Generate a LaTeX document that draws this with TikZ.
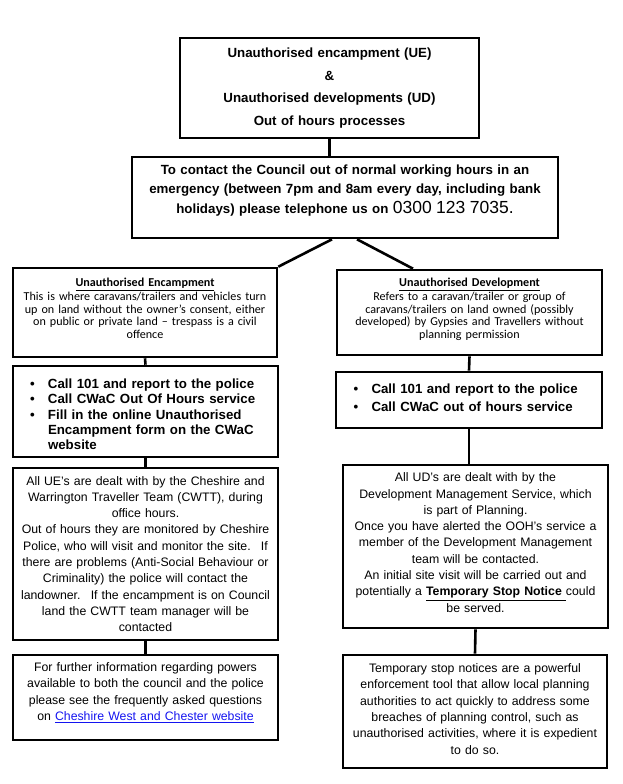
\documentclass[tikz,border=0pt]{standalone}
\usepackage{fontspec}
\setmainfont{Liberation Sans}
\newfontfamily\calibri{Carlito}
\definecolor{linkblue}{RGB}{20,20,240}
\newcommand{\bitem}[1]{\par\hangindent=25pt\hangafter=1\noindent\makebox[25pt][l]{\hspace{7pt}\textbullet}#1\par}
\tikzset{
	box/.style={
		draw,
		line width=2.6pt,
		inner sep=3pt,
		align=center
	},
	lift/.style={
		execute at end node={\par\vspace*{#1}}
	},
	bullets/.style={
		align=left,
		inner xsep=10pt,
		text width=245pt
	},
	wire/.style={line width=2.6pt},
	big/.style={font=\bfseries\fontsize{13.3}{#1}\selectfont},
	small/.style={font=\fontsize{12.3}{16.3}\selectfont},
	head/.style={font=\calibri\fontsize{12.1}{12.5}\selectfont}
}
\begin{document}
\begin{tikzpicture}[x=1pt,y=-1pt]
\useasboundingbox (0,0) rectangle (622,784);

\node[box,big=22.5,minimum width=299pt,minimum height=100pt,text width=290pt] (title) at (329.5,88)
	{Unauthorised encampment (UE)\\ \&\\ Unauthorised developments (UD)\\ Out of hours processes};
\node[box,big=19.5,lift=14pt,minimum width=426pt,minimum height=81pt,text width=416pt] (contact) at (345,197.5)
	{To contact the Council out of normal working hours in an\\ emergency (between 7pm and 8am every day, including bank\\ holidays) please telephone us on {\mdseries\fontsize{17.5}{19.5}\selectfont 0300 123 7035.}};

	% encampment side
	\node[box,head,lift=8pt,minimum width=264pt,minimum height=89pt,text width=258pt,inner xsep=2pt] (ue) at (145,312.5)
		{{\bfseries\underline{Unauthorised Encampment}}\\[1.5pt] This is where caravans/trailers and vehicles turn\\ up on land without the owner’s consent, either\\ on public or private land – trespass is a civil\\ offence};
	\node[box,big=15.4,bullets,minimum width=265pt,minimum height=91pt] (ueact) at (145.5,411.5)
		{\bitem{Call 101 and report to the police}
		\bitem{Call CWaC Out Of Hours service}
		\bitem{Fill in the online Unauthorised\newline Encampment form on the CWaC\newline website}};
	\node[box,small,minimum width=265pt,minimum height=172pt,text width=257pt] (ueinfo) at (145.5,554)
		{All UE’s are dealt with by the Cheshire and\\ Warrington Traveller Team (CWTT), during\\ office hours.\\ Out of hours they are monitored by Cheshire\\ Police, who will visit and monitor the site.~ If\\ there are problems (Anti-Social Behaviour or\\ Criminality) the police will contact the\\ landowner.~ If the encampment is on Council\\ land the CWTT team manager will be\\ contacted};
	\node[box,small,lift=10pt,minimum width=265pt,minimum height=85pt,text width=257pt] (uemore) at (145.5,697.5)
		{For further information regarding powers\\ available to both the council and the police\\ please see the frequently asked questions\\ on \textcolor{linkblue}{\underline{Cheshire West and Chester website}}};

	% development side
	\node[box,head,lift=6pt,minimum width=265pt,minimum height=85pt,text width=259pt,inner xsep=2pt] (ud) at (469.5,312.5)
		{{\bfseries\underline{Unauthorised Development}}\\[1.5pt] Refers to a caravan/trailer or group of\\ caravans/trailers on land owned (possibly\\ developed) by Gypsies and Travellers without\\ planning permission};
	\node[box,big=17.7,bullets,lift=12pt,minimum width=266pt,minimum height=56pt] (udact) at (469,400)
		{\bitem{Call 101 and report to the police}
		\bitem{Call CWaC out of hours service}};
	\node[box,small,lift=8pt,minimum width=265pt,minimum height=163pt,text width=257pt] (udinfo) at (475.5,546.5)
		{All UD’s are dealt with by the\\ Development Management Service, which\\ is part of Planning.\\ Once you have alerted the OOH’s service a\\ member of the Development Management\\ team will be contacted.\\ An initial site visit will be carried out and\\ potentially a \textbf{\underline{Temporary Stop Notice\ }}could\\ be served.};
	\node[box,small,lift=5pt,minimum width=264pt,minimum height=113pt,text width=256pt] (udtsn) at (475,711.5)
		{Temporary stop notices are a powerful\\ enforcement tool that allow local planning\\ authorities to act quickly to address some\\ breaches of planning control, such as\\ unauthorised activities, where it is expedient\\ to do so.};

\draw[wire] (title.south) -- (title.south |- contact.north);
\draw[wire] ([xshift=-13pt]contact.south) -- (ue.north east);
\draw[wire] ([xshift=12pt]contact.south) -- ([xshift=-56.5pt]ud.north);
\draw[wire] (ue.south) -- (ueact.north);
\draw[wire] (ueact.south) -- (ueinfo.north);
\draw[wire] (ueinfo.south) -- (uemore.north);
\draw[wire] (ud.south) -- (udact.north);
\draw[wire] (udact.south) -- (udact.south |- udinfo.north);
\draw[wire] (udinfo.south) -- (udtsn.north);
\end{tikzpicture}
\end{document}
